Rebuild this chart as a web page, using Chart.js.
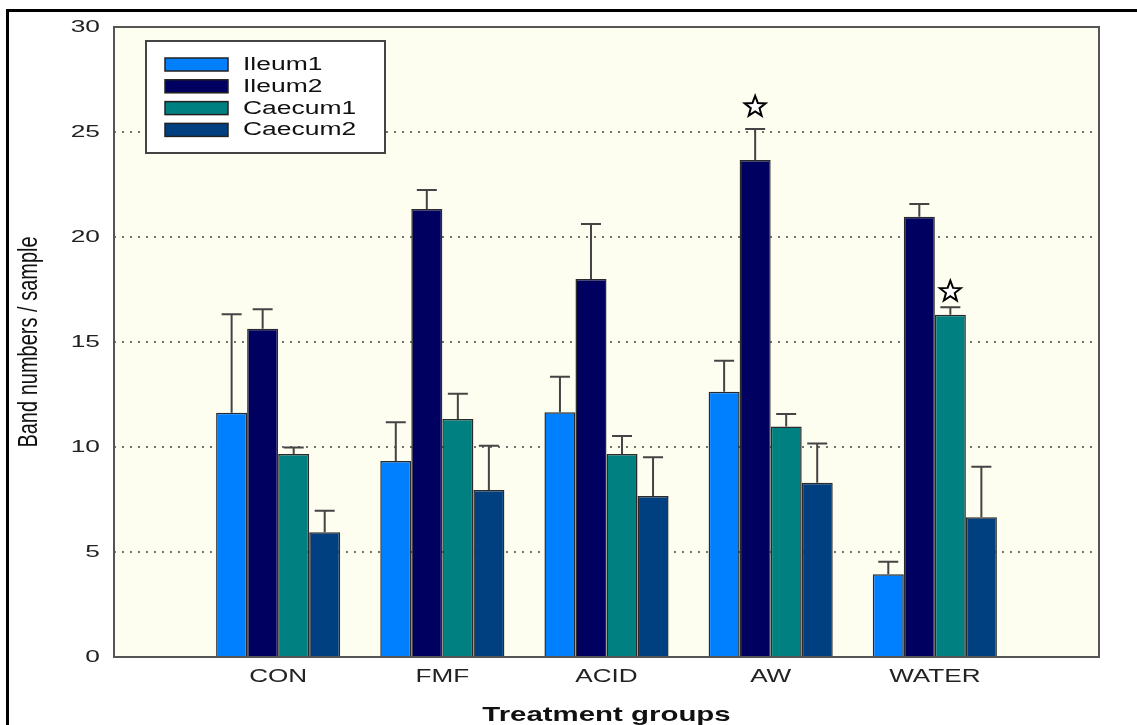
<!DOCTYPE html>
<html>
<head>
<meta charset="utf-8">
<script src="https://cdn.jsdelivr.net/npm/chart.js@4/dist/chart.umd.min.js"></script>
<style>
  html, body { margin: 0; padding: 0; background: #fff; overflow: hidden; }
  #wrap { position: relative; width: 1137px; height: 725px; }
  #frame { position: absolute; left: 6px; top: 9px; width: 1200px; height: 800px; border: 3px solid #000; pointer-events: none; }
</style>
</head>
<body>
<div id="wrap">
  <canvas id="bandChart" width="1137" height="725"></canvas>
  <div id="frame"></div>
</div>
<script>
// Treatment groups and band numbers (mean, upper error = SD)
const groups = ['CON', 'FMF', 'ACID', 'AW', 'WATER'];
const seriesNames = ['Ileum1', 'Ileum2', 'Caecum1', 'Caecum2'];
const seriesColors = ['#0080ff', '#000060', '#008080', '#004080'];

const ileum1 = [11.63, 9.33, 11.65, 12.63, 3.94];
const ileum2 = [15.63, 21.33, 18.0, 23.67, 20.97];
const caecum1 = [9.67, 11.33, 9.67, 10.98, 16.3];
const caecum2 = [5.94, 7.95, 7.67, 8.3, 6.65];

const ileum1Sd = [4.69, 1.85, 1.7, 1.48, 0.6];
const ileum2Sd = [0.93, 0.91, 2.62, 1.47, 0.6];
const caecum1Sd = [0.31, 1.21, 0.85, 0.59, 0.35];
const caecum2Sd = [1.03, 2.11, 1.84, 1.87, 2.41];

const yTicks = [0, 5, 10, 15, 20, 25, 30];
const xTitle = 'Treatment groups';
const yTitle = 'Band numbers / sample';

// significance stars: group, series index, value where the star sits
const stars = [
    { group: 'AW', series: 1, y: 26.2 },
    { group: 'WATER', series: 2, y: 17.4 }
];

// empty slots at both ends so the groups sit like in the original
const pad = arr => [null, ...arr, null];
const labels = ['', ...groups, ''];
const means = [ileum1, ileum2, caecum1, caecum2];
const sds = [ileum1Sd, ileum2Sd, caecum1Sd, caecum2Sd];

const FONT = '"Liberation Sans", Arial, sans-serif';

// the original's lettering is stretched sideways, so draw it scaled
function wideText(ctx, text, x, y, sx, align, font) {
    ctx.save();
    ctx.translate(x, y);
    ctx.scale(sx, 1);
    ctx.font = font;
    ctx.textAlign = align;
    ctx.textBaseline = 'middle';
    ctx.fillText(text, 0, 0);
    ctx.restore();
}

const extras = {
    id: 'extras',
    beforeDraw(chart) {
        const ctx = chart.ctx;
        const a = chart.chartArea;
        ctx.save();
        ctx.fillStyle = '#ffffff';
        ctx.fillRect(0, 0, chart.width, chart.height);
        ctx.fillStyle = '#fdfdf0';
        ctx.fillRect(a.left, a.top, a.right - a.left, a.bottom - a.top);
        ctx.restore();
    },
    afterDatasetsDraw(chart) {
        const ctx = chart.ctx;
        const y = chart.scales.y;
        const a = chart.chartArea;
        ctx.save();
        // error bars (upper only)
        ctx.strokeStyle = '#444';
        ctx.lineWidth = 2;
        chart.data.datasets.forEach((ds, i) => {
            const meta = chart.getDatasetMeta(i);
            ds.data.forEach((v, j) => {
                if (v === null) return;
                const bar = meta.data[j];
                const top = y.getPixelForValue(v + ds.sd[j]);
                ctx.beginPath();
                ctx.moveTo(bar.x, bar.y);
                ctx.lineTo(bar.x, top);
                ctx.moveTo(bar.x - 10, top);
                ctx.lineTo(bar.x + 10, top);
                ctx.stroke();
            });
        });
        // stars
        stars.forEach(s => {
            const j = labels.indexOf(s.group);
            const bar = chart.getDatasetMeta(s.series).data[j];
            const cx = bar.x, cy = y.getPixelForValue(s.y);
            ctx.beginPath();
            for (let k = 0; k < 10; k++) {
                const r = k % 2 === 0 ? 11 : 4.6;
                const ang = -Math.PI / 2 + k * Math.PI / 5;
                const px = cx + r * Math.cos(ang), py = cy + r * Math.sin(ang);
                if (k === 0) ctx.moveTo(px, py); else ctx.lineTo(px, py);
            }
            ctx.closePath();
            ctx.fillStyle = '#ffffff';
            ctx.fill();
            ctx.strokeStyle = '#000';
            ctx.lineWidth = 2;
            ctx.stroke();
        });
        // plot frame
        ctx.strokeStyle = '#555';
        ctx.lineWidth = 2;
        ctx.strokeRect(a.left, a.top, a.right - a.left, a.bottom - a.top);
        ctx.restore();
    },
    afterDraw(chart) {
        const ctx = chart.ctx;
        const xs = chart.scales.x, ys = chart.scales.y;
        const a = chart.chartArea;
        ctx.save();
        ctx.fillStyle = '#222';
        // tick labels
        yTicks.forEach(v => {
            wideText(ctx, String(v), a.left - 14, ys.getPixelForValue(v), 1.55, 'right', '17px ' + FONT);
        });
        groups.forEach(g => {
            const px = xs.getPixelForTick(labels.indexOf(g));
            wideText(ctx, g, px, a.bottom + 20, 1.45, 'center', '18px ' + FONT);
        });
        // axis titles
        ctx.fillStyle = '#111';
        wideText(ctx, xTitle, (a.left + a.right) / 2, 715, 1.4, 'center', 'bold 21px ' + FONT);
        ctx.save();
        ctx.translate(30, (a.top + a.bottom) / 2);
        ctx.rotate(-Math.PI / 2);
        ctx.scale(1, 1.35);
        ctx.font = '20px ' + FONT;
        ctx.textAlign = 'center';
        ctx.textBaseline = 'middle';
        ctx.fillText(yTitle, 0, 0);
        ctx.restore();

        // legend box inside the plot
        ctx.fillStyle = '#ffffff';
        ctx.fillRect(146, 41, 239, 112);
        ctx.strokeStyle = '#444';
        ctx.lineWidth = 2;
        ctx.strokeRect(146, 41, 239, 112);
        chart.data.datasets.forEach((ds, i) => {
            const top = 58 + i * 21.8;
            ctx.fillStyle = ds.backgroundColor;
            ctx.fillRect(165, top, 63, 13);
            ctx.strokeStyle = '#222';
            ctx.lineWidth = 1.5;
            ctx.strokeRect(165, top, 63, 13);
            ctx.fillStyle = '#111';
            wideText(ctx, ds.label, 243, top + 7, 1.47, 'left', '18px ' + FONT);
        });
        ctx.restore();
    }
};

const ctx = document.getElementById('bandChart').getContext('2d');
const bandChart = new Chart(ctx, {
    type: 'bar',
    data: {
        labels: labels,
        datasets: seriesNames.map((name, i) => ({
            label: name,
            data: pad(means[i]),
            sd: pad(sds[i]),
            backgroundColor: seriesColors[i],
            borderColor: '#2a2a2a',
            borderWidth: 1.5,
            categoryPercentage: 0.756,
            barPercentage: 1
        }))
    },
    plugins: [extras],
    options: {
        responsive: false,
        animation: false,
        layout: { padding: { left: 0, right: 38, top: 27, bottom: 0 } },
        plugins: {
            legend: { display: false },
            tooltip: { enabled: false }
        },
        scales: {
            x: {
                offset: false,
                grid: { display: false, drawTicks: false },
                border: { display: false },
                ticks: { display: false, autoSkip: false },
                afterFit(scale) { scale.height = 68; }
            },
            y: {
                min: 0,
                max: 30,
                z: 1,
                afterBuildTicks(scale) { scale.ticks = yTicks.map(v => ({ value: v })); },
                grid: {
                    drawTicks: false,
                    color: c => (c.tick.value === 0 || c.tick.value === 30) ? 'rgba(0,0,0,0)' : 'rgba(90,90,90,0.85)',
                    lineWidth: 2
                },
                border: { display: false, dash: [2, 6] },
                ticks: { display: false },
                afterFit(scale) { scale.width = 114; }
            }
        }
    }
});
</script>
</body>
</html>
